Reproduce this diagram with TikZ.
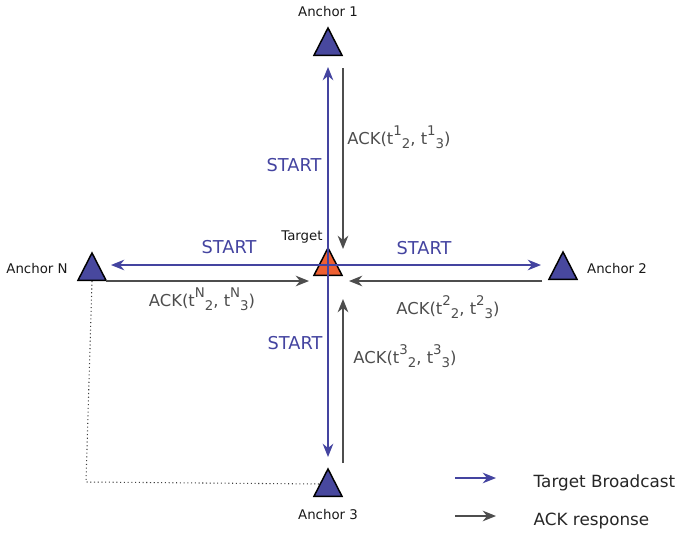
\documentclass[tikz,border=0pt]{standalone}
\usepackage{fontspec}
\setmainfont{DejaVu Sans}
\usetikzlibrary{shapes.geometric}
\usetikzlibrary{arrows.meta}
\definecolor{bcastblue}{RGB}{68,68,160}
\definecolor{ackgrey}{RGB}{77,77,77}
\definecolor{anchorfill}{RGB}{72,72,158}
\definecolor{targetfill}{RGB}{238,96,50}
\newcommand{\tpair}[2]{t\raisebox{0.52em}{\fontsize{10}{10}\selectfont #1}\raisebox{-0.24em}{\fontsize{10}{10}\selectfont #2}}
\tikzstyle{tri_node}=[isosceles triangle, isosceles triangle stretches,
    shape border rotate=90, minimum width=21pt, minimum height=20.5pt,
    inner sep=0pt, draw=black, line width=1.1pt, anchor=south]
\tikzstyle{anchor_tri}=[tri_node, fill=anchorfill]
\tikzstyle{target_tri}=[tri_node, fill=targetfill]
\tikzstyle{anchor_lbl}=[font=\fontsize{10}{11}\selectfont, text=black!90]
\tikzstyle{start_lbl}=[font=\fontsize{13.3}{15}\selectfont, text=bcastblue]
\tikzstyle{ack_lbl}=[font=\fontsize{12.3}{14}\selectfont, text=ackgrey]
\tikzstyle{legend_lbl}=[font=\fontsize{12.6}{15}\selectfont, text=black!85, anchor=west]
\tikzstyle{bcast}=[draw=bcastblue, line width=1pt, -{Stealth[length=10pt, width=8pt]}]
\tikzstyle{ack}=[draw=ackgrey, line width=1pt, -{Stealth[length=10pt, width=8pt]}]

\begin{document}
\begin{tikzpicture}[x=0.75pt, y=-0.75pt]
\useasboundingbox (0,0) rectangle (679,536);
% anchors and target (placed by their base)
\node[anchor_tri] (anc1) at (328,56){};
\node[anchor_tri] (anc2) at (563,280){};
\node[anchor_tri] (anc3) at (328,497){};
\node[anchor_tri] (ancN) at (92,281){};
\node[target_tri] (tgt) at (328,276){};
\node[anchor_lbl] (lbl_anc1) at (328,12){Anchor 1};
\node[anchor_lbl] (lbl_anc2) at (617,269){Anchor 2};
\node[anchor_lbl] (lbl_anc3) at (328,515){Anchor 3};
\node[anchor_lbl] (lbl_ancN) at (37,269){Anchor N};
\node[anchor_lbl] (lbl_tgt) at (302,237){Target};
% arrow ends
\coordinate (tc) at (328,265);
\coordinate (b1) at (328,67);
\coordinate (b2) at (541,265);
\coordinate (b3) at (328,457);
\coordinate (bN) at (111,265);
\coordinate (a1s) at (343,68);
\coordinate (a1e) at (343,249);
\coordinate (a2s) at (542,281);
\coordinate (a2e) at (349,281);
\coordinate (a3s) at (343,463);
\coordinate (a3e) at (343,299);
\coordinate (aNs) at (106,281);
\coordinate (aNe) at (309,281);
% broadcast
\draw[bcast](tc) -- (b1);
\draw[bcast](tc) -- (b2);
\draw[bcast](tc) -- (b3);
\draw[bcast](tc) -- (bN);
% responses
\draw[ack](a1s) -- (a1e);
\draw[ack](a2s) -- (a2e);
\draw[ack](a3s) -- (a3e);
\draw[ack](aNs) -- (aNe);
\fill[bcastblue] (tc) circle (1.2pt);
% dotted link
\coordinate (dotcorner) at (86,482);
\coordinate (dotend) at (320,484);
\draw[dotted, line width=0.8pt, black!75](ancN.south) -- (dotcorner) -- (dotend);
% labels
\node[start_lbl] (st1) at (294,165){START};
\node[start_lbl] (st2) at (424,248){START};
\node[start_lbl] (st3) at (295,343){START};
\node[start_lbl] (stN) at (229,247){START};
\node[ack_lbl] (ack1) at (399,137){ACK(\tpair{1}{2}, \tpair{1}{3})};
\node[ack_lbl] (ack2) at (448,307){ACK(\tpair{2}{2}, \tpair{2}{3})};
\node[ack_lbl] (ack3) at (405,356){ACK(\tpair{3}{2}, \tpair{3}{3})};
\node[ack_lbl] (ackN) at (202,299){ACK(\tpair{N}{2}, \tpair{N}{3})};
% legend
\coordinate (lg1s) at (455,478);
\coordinate (lg1e) at (496,478);
\coordinate (lg2s) at (455,516);
\coordinate (lg2e) at (496,516);
\draw[bcast](lg1s) -- (lg1e);
\draw[ack](lg2s) -- (lg2e);
\node[legend_lbl] (lg1) at (529,483){Target Broadcast};
\node[legend_lbl] (lg2) at (529,521){ACK response};
\end{tikzpicture}
\end{document}
